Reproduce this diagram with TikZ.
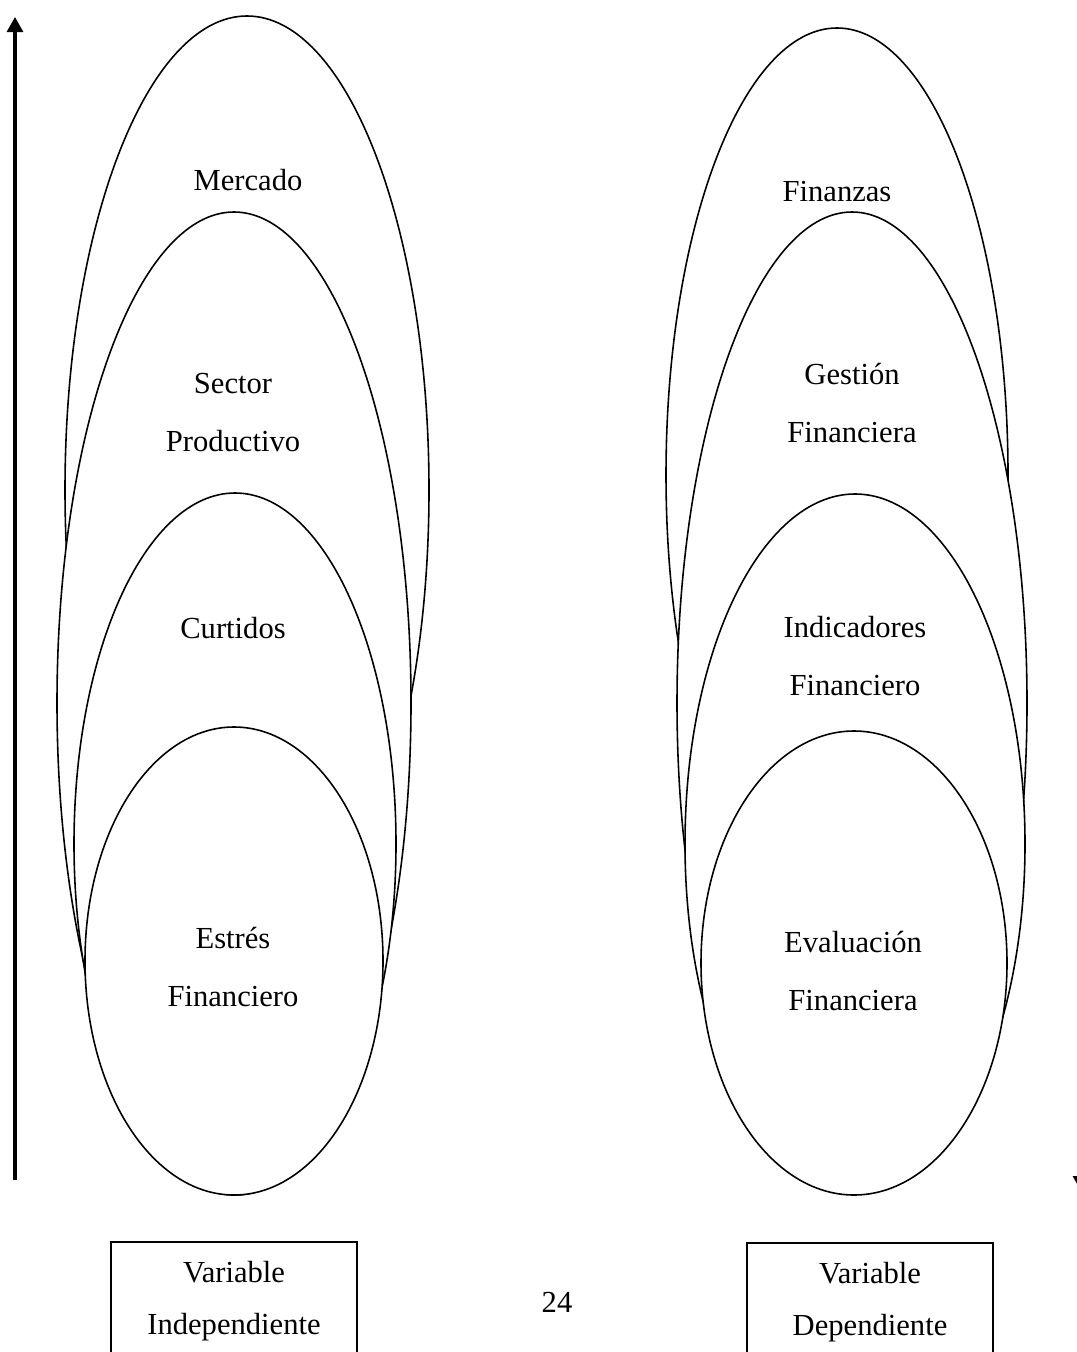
\documentclass[tikz,border=0pt]{standalone}
\usepackage{fontspec}
\setmainfont{Liberation Serif}
\usetikzlibrary{arrows.meta}

\begin{document}
\begin{tikzpicture}
[x=0.01cm,y=-0.01cm,every node/.style={font=\fontsize{8.7}{16.5}\selectfont,align=center},
ring/.style={draw,fill=white,line width=0.45pt},
varbox/.style={draw,line width=0.45pt,minimum width=2.46cm,minimum height=1.18cm,font=\fontsize{8.7}{14.8}\selectfont},
axis/.style={line width=0.03cm,-{Triangle[width=0.16cm,length=0.15cm]}}]
\useasboundingbox (0,0) rectangle (1076,1352);
% independent variable
\foreach \cx/\cy/\rx/\ry in {247/490/182/474,234/703/177/491,235/844/161/351,234/961/149/234}
\draw[ring] (\cx,\cy) ellipse [x radius=\rx,y radius=\ry];
\node (mercado) at (248,180) {Mercado};
\node (sector) at (233,413) {Sector\\Productivo};
\node (curtidos) at (233,628) {Curtidos};
\node (estres) at (233,967) {Estrés\\Financiero};
% dependent variable
\foreach \cx/\cy/\rx/\ry in {837/475/171/447,852/703/175/491,855/844/170/350,854/963/153/232}
\draw[ring] (\cx,\cy) ellipse [x radius=\rx,y radius=\ry];
\node (finanzas) at (837,192) {Finanzas};
\node (gestion) at (852,403) {Gestión\\Financiera};
\node (indicadores) at (855,656) {Indicadores\\Financiero};
\node (evaluacion) at (853,971) {Evaluación\\Financiera};
% boxes
\node[varbox] (indep) at (234,1301) {Variable\\Independiente};
\node[varbox] (dep) at (870,1302) {Variable\\Dependiente};
\node (pagina) at (557,1302) {24};
% arrows
\coordinate (up0) at (15,1180);
\coordinate (up1) at (15,17);
\draw[axis] (up0) -- (up1);
\coordinate (dn0) at (1081,1000);
\coordinate (dn1) at (1081,1191);
\draw[axis] (dn0) -- (dn1);
\end{tikzpicture}
\end{document}
